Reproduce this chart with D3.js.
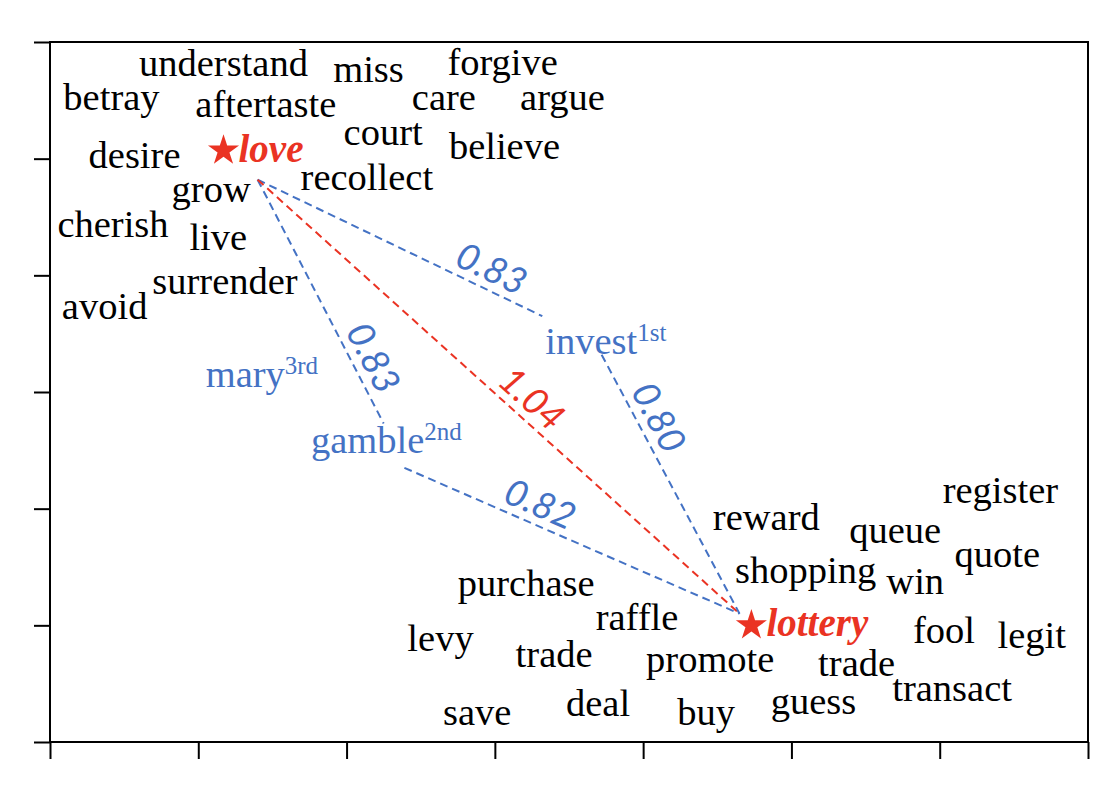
<!DOCTYPE html>
<html>
<head>
<meta charset="utf-8">
<script src="https://cdn.jsdelivr.net/npm/d3@7"></script>
<style>
 body { margin: 0; background: #fff; }
 text { font-family: "Liberation Serif", "Times New Roman", serif; }
</style>
</head>
<body>
<div id="chart"></div>
<script>
// plain neighbour words (data units)
var words = ["understand", "miss", "forgive", "betray", "aftertaste", "care", "argue", "court", "believe",
 "desire", "grow", "recollect", "cherish", "live", "surrender", "avoid",
 "register", "reward", "queue", "quote", "shopping", "win", "purchase", "raffle", "fool", "legit",
 "levy", "trade", "promote", "trade", "transact", "guess", "save", "deal", "buy"];
var wordX = [0.60, 1.91, 2.68, 0.09, 0.98, 2.44, 3.17, 1.98, 2.69,
 0.26, 0.82, 1.69, 0.05, 0.94, 0.69, 0.08,
 6.02, 4.47, 5.39, 6.10, 4.62, 5.64, 2.75, 3.68, 5.82, 6.39,
 2.41, 3.14, 4.02, 5.18, 5.68, 4.86, 2.65, 3.48, 4.23];
var wordY = [5.71, 5.66, 5.72, 5.42, 5.36, 5.42, 5.42, 5.12, 5.00,
 4.92, 4.63, 4.73, 4.33, 4.22, 3.84, 3.63,
 2.05, 1.82, 1.71, 1.50, 1.36, 1.27, 1.25, 0.96, 0.85, 0.81,
 0.78, 0.64, 0.60, 0.57, 0.35, 0.24, 0.15, 0.22, 0.15];

// ranked bridge words
var bridges = ["invest", "gamble", "mary"];
var bridgeRank = ["1st", "2nd", "3rd"];
var bridgeX = [3.34, 1.76, 1.05];
var bridgeY = [3.33, 2.48, 3.04];

// query words
var anchors = ["love", "lottery"];
var anchorX = [1.17, 4.73];
var anchorY = [5.07, 1.00];

// distance segments
var segX1 = [1.40, 1.40, 1.40, 3.72, 2.39];
var segY1 = [4.82, 4.82, 4.82, 3.32, 2.35];
var segX2 = [3.32, 2.25, 4.65, 4.65, 4.65];
var segY2 = [3.65, 2.73, 1.10, 1.10, 1.10];
var segDist = ["0.83", "0.83", "1.04", "0.80", "0.82"];
var segDirect = [false, false, true, false, false];
var segLabelT = [0.79, 0.77, 0.54, 0.28, 0.38];

var xTicks = [0, 1, 2, 3, 4, 5, 6, 7];
var yTicks = [0, 1, 2, 3, 4, 5, 6];

var svgWidth = 1118, svgHeight = 796;
var margin = {top: 42, right: 30, bottom: 54, left: 50};
var width = svgWidth - margin.left - margin.right;
var height = svgHeight - margin.top - margin.bottom;
var blue = "#4472c4", red = "#ea3323";

var svg = d3.select("#chart").append("svg")
  .attr("width", svgWidth)
  .attr("height", svgHeight)
 .append("g")
  .attr("transform", "translate(" + margin.left + "," + margin.top + ")");

var x = d3.scaleLinear().domain([0, 7]).range([0, width]);
var y = d3.scaleLinear().domain([0, 6]).range([height, 0]);

// frame and axes
svg.append("rect")
  .attr("width", width).attr("height", height)
  .attr("fill", "none").attr("stroke", "#000").attr("stroke-width", 2);
svg.append("g")
  .attr("transform", "translate(0," + height + ")")
  .call(d3.axisBottom(x).tickValues(xTicks).tickSize(17).tickFormat(""))
  .call(function(g) { g.select(".domain").remove(); g.selectAll("line").attr("stroke-width", 2); });
svg.append("g")
  .call(d3.axisLeft(y).tickValues(yTicks).tickSize(16).tickFormat(""))
  .call(function(g) { g.select(".domain").remove(); g.selectAll("line").attr("stroke-width", 2); });

// dashed segments
segDist.forEach(function(d, i) {
  var x1 = x(segX1[i]), y1 = y(segY1[i]), x2 = x(segX2[i]), y2 = y(segY2[i]);
  var col = segDirect[i] ? red : blue;
  svg.append("line")
    .attr("x1", x1).attr("y1", y1).attr("x2", x2).attr("y2", y2)
    .attr("stroke", col).attr("stroke-width", 2).attr("stroke-dasharray", "8,5");
  var ang = Math.atan2(y2 - y1, x2 - x1);
  var t = segLabelT[i];
  var nx = Math.sin(ang), ny = -Math.cos(ang); // normal (upper side)
  var off = 21;
  var lx = x1 + (x2 - x1) * t + nx * off, ly = y1 + (y2 - y1) * t + ny * off;
  svg.append("text")
    .attr("transform", "translate(" + lx + "," + ly + ") rotate(" + (ang * 180 / Math.PI) + ")")
    .attr("text-anchor", "middle")
    .attr("dy", "0.35em")
    .attr("fill", col)
    .style("font-family", "Lato, 'Open Sans', sans-serif")
    .style("font-style", "italic")
    .style("font-size", "37px")
    .text(d);
});

// neighbour words
svg.append("g").selectAll("text")
  .data(words)
  .enter()
  .append("text")
    .attr("x", function(d, i) { return x(wordX[i]); })
    .attr("y", function(d, i) { return y(wordY[i]); })
    .style("font-size", "38.5px")
    .attr("fill", "#000")
    .text(function(d) { return d; });

// bridge words with rank superscript
bridges.forEach(function(d, i) {
  var t = svg.append("text")
    .attr("x", x(bridgeX[i])).attr("y", y(bridgeY[i]))
    .attr("fill", blue)
    .style("font-size", "38.5px");
  t.append("tspan").text(d);
  t.append("tspan").attr("dy", -13).style("font-size", "25px").text(bridgeRank[i]);
});

// query words with star
anchors.forEach(function(d, i) {
  var cx = x(anchorX[i]), cy = y(anchorY[i]);
  svg.append("path")
    .attr("d", d3.symbol(d3.symbolStar, 300)())
    .attr("transform", "translate(" + cx + "," + cy + ")")
    .attr("fill", red);
  svg.append("text")
    .attr("x", cx + 15).attr("y", cy + 11)
    .attr("fill", red)
    .style("font-size", "39px")
    .style("font-style", "italic")
    .style("font-weight", "bold")
    .text(d);
});
</script>
</body>
</html>
